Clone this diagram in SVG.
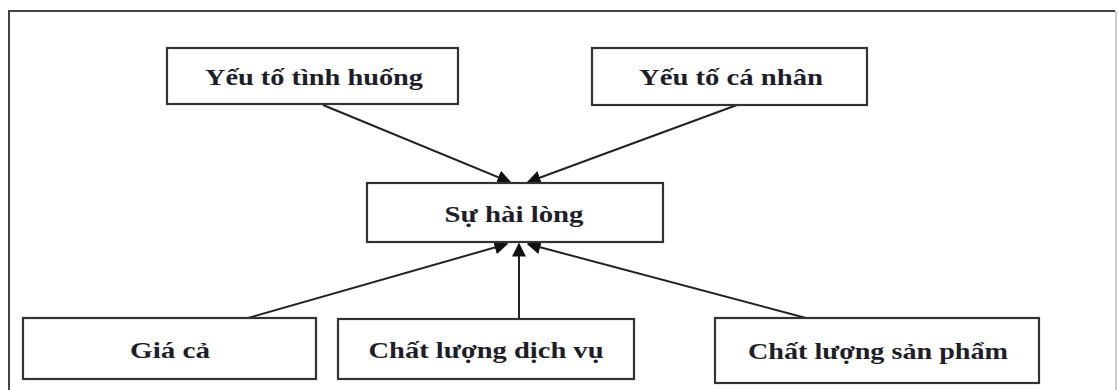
<svg xmlns="http://www.w3.org/2000/svg" width="1118" height="390" viewBox="0 0 1118 390">
<style>
.box{fill:#fff;stroke:#333;stroke-width:2.2}
.lbl{font-family:"Liberation Serif","Times New Roman",serif;font-weight:bold;font-size:24px;fill:#1e1e2a;text-anchor:middle}
.con{stroke:#222;stroke-width:2;fill:none;marker-end:url(#ah)}
</style>
<defs>
<marker id="ah" viewBox="0 0 10 10" refX="9" refY="5" markerWidth="7" markerHeight="7" orient="auto" markerUnits="strokeWidth">
<path d="M0,0 L10,5 L0,10 Z" fill="#111"/>
</marker>
</defs>
<rect width="1118" height="390" fill="#fff"/>
<g id="frame">
<path d="M9,392 L9,11 L1115,11" fill="none" stroke="#444" stroke-width="2"/>
<line x1="1116" y1="11" x2="1116" y2="392" stroke="#bbb" stroke-width="1.5"/>
</g>
<g id="connectors">
<line class="con" x1="323" y1="105" x2="510" y2="182"/>
<line class="con" x1="737" y1="105" x2="528" y2="182"/>
<line class="con" x1="248" y1="318" x2="507" y2="244"/>
<line class="con" x1="519" y1="318" x2="519" y2="244"/>
<line class="con" x1="806" y1="318" x2="528" y2="244"/>
</g>
<g id="n-tinhhuong">
<rect class="box" x="167" y="48" width="291" height="56"/>
<text class="lbl" x="314" y="85" textLength="218" lengthAdjust="spacingAndGlyphs">Yếu tố tình huống</text>
</g>
<g id="n-canhan">
<rect class="box" x="592" y="48" width="275" height="57"/>
<text class="lbl" x="731" y="85" textLength="184" lengthAdjust="spacingAndGlyphs">Yếu tố cá nhân</text>
</g>
<g id="n-hailong">
<rect class="box" x="367" y="183" width="296" height="59"/>
<text class="lbl" x="514" y="222" textLength="139" lengthAdjust="spacingAndGlyphs">Sự hài lòng</text>
</g>
<g id="n-giaca">
<rect class="box" x="23" y="318" width="293" height="61"/>
<text class="lbl" x="170" y="358" textLength="80" lengthAdjust="spacingAndGlyphs">Giá cả</text>
</g>
<g id="n-dichvu">
<rect class="box" x="338" y="319" width="296" height="60"/>
<text class="lbl" x="486" y="358" textLength="235" lengthAdjust="spacingAndGlyphs">Chất lượng dịch vụ</text>
</g>
<g id="n-sanpham">
<rect class="box" x="715" y="318" width="324" height="65"/>
<text class="lbl" x="878" y="359" textLength="260" lengthAdjust="spacingAndGlyphs">Chất lượng sản phẩm</text>
</g>
</svg>
